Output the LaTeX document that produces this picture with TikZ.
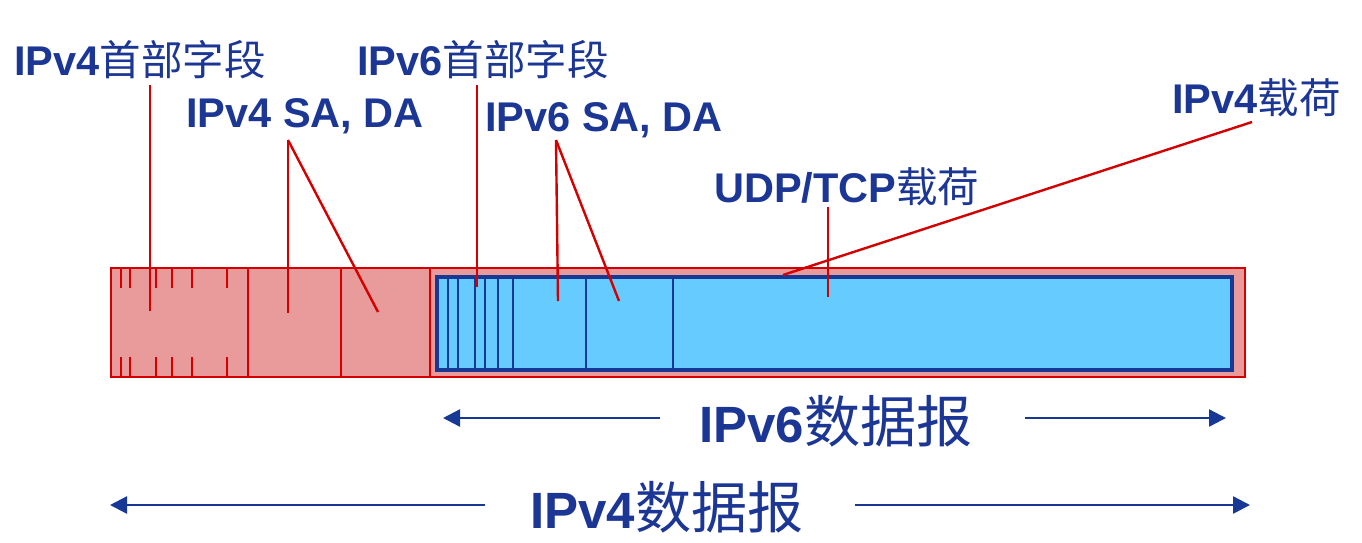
\documentclass[tikz,border=0pt]{standalone}
\usepackage{fontspec}
\usepackage{tikz}
\usetikzlibrary{arrows.meta}
\setmainfont{Liberation Sans}
\newfontfamily\cjk{Noto Sans CJK SC}
\newfontfamily\cjkwide{Noto Sans CJK SC}[Scale=1.1]
\newcommand{\zh}[1]{{\mdseries\cjk #1}}
\newcommand{\zhw}[1]{{\mdseries\cjkwide #1}}
\definecolor{tb}{RGB}{27, 54, 148}
\definecolor{lr}{RGB}{212, 0, 0}
\definecolor{fr}{RGB}{233, 155, 155}
\definecolor{fb}{RGB}{102, 204, 255}
\definecolor{bb}{RGB}{24, 56, 150}
\tikzset{
  lbl/.style={anchor=west, inner sep=0pt, text=tb, font=\fontsize{41.5}{41.5}\selectfont\bfseries},
  biglbl/.style={anchor=west, inner sep=0pt, text=tb, font=\fontsize{51}{51}\selectfont\bfseries},
  ptr/.style={line width=2.4pt, color=lr},
  dgarrow/.style={line width=2.4pt, color=bb, -{Triangle[length=17pt, width=17pt]}}
}

\begin{document}
\begin{tikzpicture}
\useasboundingbox (0pt, 0pt) rectangle (1362pt, -542pt);
\draw [line width=2.4pt, draw=lr, fill=fr] (111pt, -268pt) rectangle (1245pt, -377pt);
\foreach \x in {248, 341, 430}
  \draw [line width=2.4pt, color=lr] (\x pt, -268pt) -- (\x pt, -377pt);
\foreach \x in {121, 130, 156, 172, 192, 227} {
  \draw [line width=2.4pt, color=lr] (\x pt, -268pt) -- (\x pt, -288pt);
  \draw [line width=2.4pt, color=lr] (\x pt, -357pt) -- (\x pt, -377pt);
}
\draw [line width=3.2pt, draw=bb, fill=fb] (437pt, -277pt) rectangle (1232pt, -370pt);
\foreach \x in {448, 458, 475, 485, 498, 513, 586, 673}
  \draw [line width=2.2pt, color=bb] (\x pt, -277pt) -- (\x pt, -370pt);
\node (v4hdr) [lbl] at (14pt, -60pt) {IPv4\zh{首部字段}};
\node (v4sa) [lbl] at (186pt, -116pt) {IPv4 SA, DA};
\node (v6hdr) [lbl] at (357pt, -60pt) {IPv6\zh{首部字段}};
\node (v6sa) [lbl] at (485pt, -120pt) {IPv6 SA, DA};
\node (udp) [lbl] at (714pt, -187pt) {UDP/TCP\zh{载荷}};
\node (v4pl) [lbl] at (1172pt, -98pt) {IPv4\zh{载荷}};
\node (v6dg) [biglbl] at (699pt, -421pt) {IPv6\zhw{数据报}};
\node (v4dg) [biglbl] at (530pt, -507pt) {IPv4\zhw{数据报}};
\coordinate (a1) at (150pt, -85pt);
\coordinate (a2) at (150pt, -311pt);
\coordinate (b1) at (288pt, -140pt);
\coordinate (b2) at (288pt, -313pt);
\coordinate (b3) at (378pt, -312pt);
\coordinate (c1) at (477pt, -85pt);
\coordinate (c2) at (477pt, -287pt);
\coordinate (d1) at (556pt, -140pt);
\coordinate (d2) at (558pt, -301pt);
\coordinate (d3) at (619pt, -301pt);
\coordinate (e1) at (828pt, -207pt);
\coordinate (e2) at (828pt, -297pt);
\coordinate (f1) at (1252pt, -122pt);
\coordinate (f2) at (783pt, -275pt);
\draw [ptr] (a1) -- (a2);
\draw [ptr] (b1) -- (b2);
\draw [ptr] (b1) -- (b3);
\draw [ptr] (c1) -- (c2);
\draw [ptr] (d1) -- (d2);
\draw [ptr] (d1) -- (d3);
\draw [ptr] (e1) -- (e2);
\draw [ptr] (f1) -- (f2);
\coordinate (g1) at (660pt, -418pt);
\coordinate (g2) at (443pt, -418pt);
\coordinate (g3) at (1025pt, -418pt);
\coordinate (g4) at (1226pt, -418pt);
\coordinate (h1) at (485pt, -505pt);
\coordinate (h2) at (110pt, -505pt);
\coordinate (h3) at (855pt, -505pt);
\coordinate (h4) at (1250pt, -505pt);
\draw [dgarrow] (g1) -- (g2);
\draw [dgarrow] (g3) -- (g4);
\draw [dgarrow] (h1) -- (h2);
\draw [dgarrow] (h3) -- (h4);
\end{tikzpicture}
\end{document}
